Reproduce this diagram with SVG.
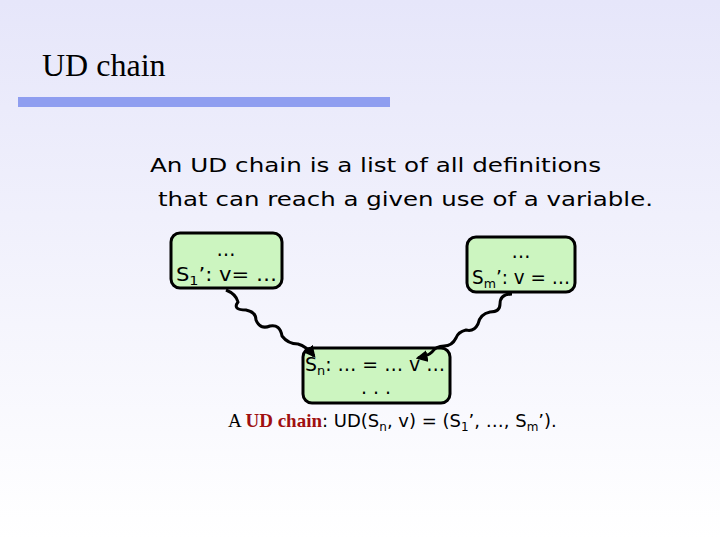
<svg xmlns="http://www.w3.org/2000/svg" width="720" height="540" viewBox="0 0 720 540">
<style>
.b{fill:#ccf5c0;stroke:#000;stroke-width:3}
.t{font-family:"DejaVu Sans",Verdana,sans-serif;font-size:19px;fill:#000}
.c{fill:none;stroke:#000;stroke-width:3}
</style>
<defs>
<linearGradient id="bg" x1="0" y1="0" x2="0" y2="1">
<stop offset="0" stop-color="#e6e6fa"/><stop offset="1" stop-color="#ffffff"/>
</linearGradient>
<marker id="a" viewBox="0 0 10 10" refX="8" refY="5" markerWidth="12" markerHeight="12" markerUnits="userSpaceOnUse" orient="auto"><path d="M0,0L10,5L0,10z" fill="#000"/></marker>
</defs>
<rect width="720" height="540" fill="url(#bg)"/>
<text x="42" y="76" font-family="Liberation Serif,serif" font-size="32" fill="#000">UD chain</text>
<rect x="18" y="97" width="372" height="10" fill="#8f9ef0"/>
<text class="t" x="150" y="172" font-size="27" textLength="451" lengthAdjust="spacingAndGlyphs">An UD chain is a list of all definitions</text>
<text class="t" x="158" y="206" font-size="27" textLength="495" lengthAdjust="spacingAndGlyphs">that can reach a given use of a variable.</text>
<g id="s1"><rect class="b" x="171" y="233" width="111" height="55" rx="9"/>
<text class="t" x="226" y="256" text-anchor="middle">…</text>
<text class="t" x="176" y="281" textLength="101" lengthAdjust="spacingAndGlyphs">S<tspan font-size="13" dy="4">1</tspan><tspan dy="-4">’: v= …</tspan></text></g>
<g id="sm"><rect class="b" x="467" y="237" width="108" height="55" rx="9"/>
<text class="t" x="521" y="258" text-anchor="middle">…</text>
<text class="t" x="472" y="284" textLength="98" lengthAdjust="spacingAndGlyphs">S<tspan font-size="13" dy="4">m</tspan><tspan dy="-4">’: v = …</tspan></text></g>
<g id="sn"><rect class="b" x="303" y="348" width="147" height="55" rx="9"/>
<text class="t" x="305" y="371" textLength="140" lengthAdjust="spacingAndGlyphs">S<tspan font-size="13" dy="4">n</tspan><tspan dy="-4">: … =  … v …</tspan></text>
<text class="t" x="376" y="394" text-anchor="middle">. . .</text></g>
<g id="connectors">
<path class="c" marker-end="url(#a)" d="M226,290 q10,4 12,12 q-6,8 8,8 q10,2 10,10 q4,10 14,6 q10,-2 12,10 q6,8 16,8 q8,2 16,12"/>
<path class="c" marker-end="url(#a)" d="M512,294 q-12,0 -12,10 q0,8 -10,8 q-10,2 -12,12 q-4,8 -12,6 q-8,2 -10,8 q-4,8 -12,8 q-8,0 -12,6 q-4,4 -14,6"/>
</g>
<text x="228" y="427" font-size="19" font-family="Liberation Serif,serif">A <tspan fill="#a01010" font-weight="bold">UD chain</tspan><tspan font-family="DejaVu Sans,sans-serif" font-size="18">: UD(S<tspan font-size="12" dy="4">n</tspan><tspan dy="-4">, v) = (S</tspan><tspan font-size="12" dy="4">1</tspan><tspan dy="-4">’, …, S</tspan><tspan font-size="12" dy="4">m</tspan><tspan dy="-4">’).</tspan></tspan></text>
</svg>
